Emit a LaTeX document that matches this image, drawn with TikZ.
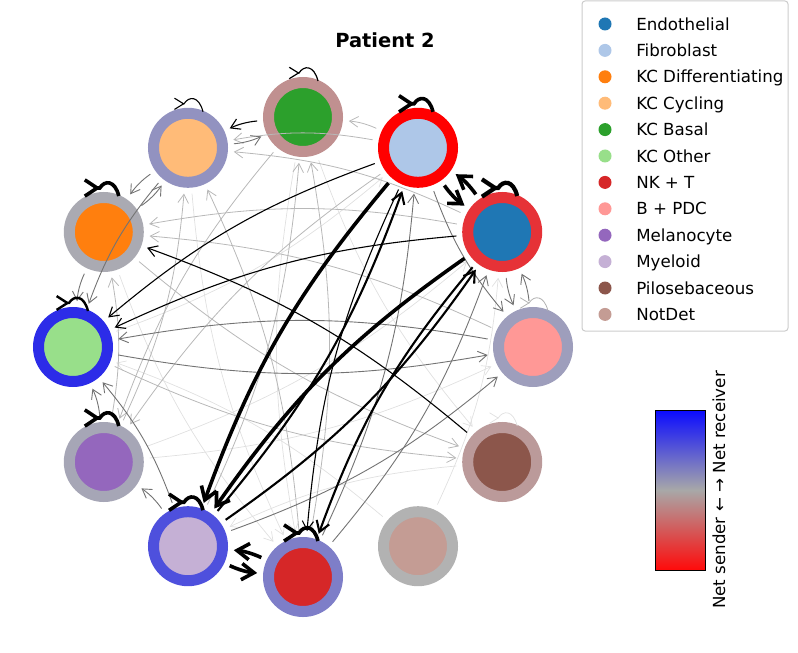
\documentclass[tikz,border=0pt]{standalone}
\usepackage{fontspec}
\setmainfont{DejaVu Sans}
\usetikzlibrary{arrows.meta,calc}

\newlength{\du}
\setlength{\du}{0.72pt}

% cell type colours (fill)
\definecolor{cEndo}{HTML}{1F77B4}
\definecolor{cFib}{HTML}{AEC7E8}
\definecolor{cKCDiff}{HTML}{FF7F0E}
\definecolor{cKCCyc}{HTML}{FFBB78}
\definecolor{cKCBasal}{HTML}{2CA02C}
\definecolor{cKCOth}{HTML}{98DF8A}
\definecolor{cNKT}{HTML}{D62728}
\definecolor{cBPDC}{HTML}{FF9896}
\definecolor{cMelano}{HTML}{9467BD}
\definecolor{cMye}{HTML}{C5B0D5}
\definecolor{cPilo}{HTML}{8C564B}
\definecolor{cNotDet}{HTML}{C49C94}
% ring colours (sender / receiver)
\definecolor{rFib}{HTML}{FF0000}
\definecolor{rEndo}{HTML}{E63237}
\definecolor{rBPDC}{HTML}{9E9EBC}
\definecolor{rPilo}{HTML}{BB9A9A}
\definecolor{rNotDet}{HTML}{B2B2B2}
\definecolor{rNKT}{HTML}{7E7EC8}
\definecolor{rMye}{HTML}{4E50DD}
\definecolor{rMelano}{HTML}{A6A6B6}
\definecolor{rKCOth}{HTML}{2C2CE8}
\definecolor{rKCDiff}{HTML}{AAAAB2}
\definecolor{rKCCyc}{HTML}{9292C0}
\definecolor{rKCBasal}{HTML}{C09090}
\definecolor{cbTop}{HTML}{0A0AFF}
\definecolor{cbMid}{HTML}{A8A8A8}
\definecolor{cbBot}{HTML}{FF0A0A}

\newcommand{\cellloop}[2]{%
\draw[barb,#2] ($(#1.center)+(15\du,36\du)$) .. controls ($(#1.center)+(11\du,52\du)$) and ($(#1.center)+(1\du,52\du)$) .. ($(#1.center)+(-4\du,44\du)$) -- ++(0.6\du,0);}

\tikzset{
cell/.style={circle, minimum size=69\du, line width=11\du, inner sep=0pt},
barb/.style={-{Straight Barb[length=5.5pt 1.3,width=6.5pt 2]}},
link/.style={barb, shorten >=6\du, shorten <=6\du},
heavy/.style={link, line width=3.6\du},
medium/.style={link, line width=2.1\du},
light/.style={link, line width=1.1\du},
grayline/.style={link, line width=0.9\du, black!55},
faintline/.style={link, line width=0.8\du, black!28},
ghostline/.style={link, line width=0.7\du, black!12},
dot/.style={circle, minimum size=13\du, inner sep=0pt},
legtext/.style={anchor=west, inner sep=0pt, text height=8.7pt, text depth=0pt, font=\fontsize{12}{14}\selectfont}
}

\begin{document}
\begin{tikzpicture}
\useasboundingbox (0\du,0\du) rectangle (798\du,652\du);

% title
\node[font=\fontsize{14}{17}\selectfont\bfseries] (title) at (385\du,612\du) {Patient 2};

% cells on the ring
\node[cell, fill=cKCBasal, draw=rKCBasal] (kcbasal) at (303\du,535\du) {};
\node[cell, fill=cFib, draw=rFib] (fib) at (418\du,504.2\du) {};
\node[cell, fill=cEndo, draw=rEndo] (endo) at (502.2\du,420\du) {};
\node[cell, fill=cBPDC, draw=rBPDC] (bpdc) at (533\du,305\du) {};
\node[cell, fill=cPilo, draw=rPilo] (pilo) at (502.2\du,190\du) {};
\node[cell, fill=cNotDet, draw=rNotDet] (notdet) at (418\du,105.8\du) {};
\node[cell, fill=cNKT, draw=rNKT] (nkt) at (303\du,75\du) {};
\node[cell, fill=cMye, draw=rMye] (mye) at (188\du,105.8\du) {};
\node[cell, fill=cMelano, draw=rMelano] (melano) at (103.8\du,190\du) {};
\node[cell, fill=cKCOth, draw=rKCOth] (kcoth) at (73\du,305\du) {};
\node[cell, fill=cKCDiff, draw=rKCDiff] (kcdiff) at (103.8\du,420\du) {};
\node[cell, fill=cKCCyc, draw=rKCCyc] (kccyc) at (188\du,504.2\du) {};

% weak links
\draw[ghostline] (notdet) to[bend right=10] (kcoth);
\draw[ghostline] (notdet) to[bend right=10] (endo);
\draw[ghostline] (kcbasal) to[bend right=10] (pilo);
\draw[ghostline] (kcoth) to[bend right=10] (fib);
\draw[ghostline] (melano) to[bend right=10] (endo);
\draw[ghostline] (kcdiff) to[bend right=10] (nkt);
\draw[ghostline] (kccyc) to[bend right=10] (nkt);
\draw[ghostline] (pilo) to[bend right=10] (mye);
\draw[ghostline] (melano) to[bend right=10] (bpdc);
\draw[ghostline] (kcbasal) to[bend right=10] (nkt);
\draw[faintline] (fib) to[bend right=10] (kcbasal);
\draw[faintline] (endo) to[bend right=10] (kccyc);
\draw[faintline] (fib) to[bend right=10] (kccyc);
\draw[faintline] (melano) to[bend right=10] (kccyc);
\draw[faintline] (nkt) to[bend right=10] (kccyc);
\draw[faintline] (mye) to[bend right=10] (kcbasal);
\draw[faintline] (nkt) to[bend right=10] (kcbasal);
\draw[faintline] (kcbasal) to[bend right=10] (melano);
\draw[faintline] (fib) to[bend right=10] (melano);
\draw[faintline] (kcoth) to[bend right=10] (pilo);
\draw[faintline] (kcdiff) to[bend right=10] (pilo);
\draw[faintline] (endo) to[bend right=10] (kcdiff);
\draw[faintline] (bpdc) to[bend right=10] (kcdiff);
\draw[faintline] (melano) to[bend right=10] (kcdiff);

% gray links
\draw[grayline] (bpdc) to[bend right=10] (kcoth);
\draw[grayline] (kcoth) to[bend right=10] (bpdc);
\draw[grayline] (mye) to[bend right=10] (bpdc);
\draw[grayline] (nkt) to[bend right=10] (endo);
\draw[grayline] (nkt) to[bend right=10] (fib);
\draw[grayline] (fib) to[bend right=10] (bpdc);
\draw[grayline] (kccyc) to[bend right=10] (kcbasal);
\draw[grayline] (kcdiff) to[bend right=10] (kccyc);
\draw[grayline] (kccyc) to[bend right=10] (kcdiff);
\draw[grayline] (mye) to[bend right=10] (melano);
\draw[grayline] (melano) to[bend right=10] (kcoth);
\draw[grayline] (kcdiff) to[bend right=10] (kcoth);
\draw[grayline] (kccyc) to[bend right=10] (kcoth);
\draw[grayline] (mye) to[bend right=10] (kcoth);
\draw[grayline] (endo) to[bend right=10] (bpdc);
\draw[grayline] (bpdc) to[bend right=10] (endo);

% black links
\draw[light] (fib) to[bend right=10] (nkt);
\draw[light] (fib) to[bend right=10] (kcoth);
\draw[light] (endo) to[bend right=10] (kcoth);
\draw[light] (pilo) to[bend right=10] (kcdiff);
\draw[light] (kcbasal) to[bend right=10] (kccyc);
\draw[medium] (mye) to[bend right=10] (fib);
\draw[medium] (mye) to[bend right=10] (endo);
\draw[medium] (endo) to[bend right=10] (nkt);
\draw[heavy] (fib) to[bend right=10] (mye);
\draw[heavy] (endo) to[bend right=10] (mye);
\draw[heavy] (fib) to[bend right=10] (endo);
\draw[heavy] (endo) to[bend right=10] (fib);
\draw[heavy] (mye) to[bend right=10] (nkt);
\draw[heavy] (nkt) to[bend right=10] (mye);

% self loops
\cellloop{fib}{line width=3.6\du}
\cellloop{endo}{line width=4.2\du}
\cellloop{kcdiff}{line width=3.6\du}
\cellloop{nkt}{line width=3.6\du}
\cellloop{mye}{line width=3.6\du}
\cellloop{melano}{line width=3.6\du}
\cellloop{kcoth}{line width=2.4\du}
\cellloop{kccyc}{line width=1.1\du}
\cellloop{kcbasal}{line width=1.2\du}
\cellloop{bpdc}{line width=0.8\du, black!30}
\cellloop{pilo}{line width=0.7\du, black!12}

% legend
\draw[black!20, line width=1\du, fill=white, rounded corners=3\du] (582\du,321\du) rectangle (788\du,651\du);
\node[dot, fill=cEndo] (dEndo) at (605\du,628\du) {};
\node[legtext] (lEndo) at (636\du,628\du) {Endothelial};
\node[dot, fill=cFib] (dFib) at (605\du,601.6\du) {};
\node[legtext] (lFib) at (636\du,601.6\du) {Fibroblast};
\node[dot, fill=cKCDiff] (dKCDiff) at (605\du,575.2\du) {};
\node[legtext] (lKCDiff) at (636\du,575.2\du) {KC Differentiating};
\node[dot, fill=cKCCyc] (dKCCyc) at (605\du,548.8\du) {};
\node[legtext] (lKCCyc) at (636\du,548.8\du) {KC Cycling};
\node[dot, fill=cKCBasal] (dKCBasal) at (605\du,522.4\du) {};
\node[legtext] (lKCBasal) at (636\du,522.4\du) {KC Basal};
\node[dot, fill=cKCOth] (dKCOth) at (605\du,496\du) {};
\node[legtext] (lKCOth) at (636\du,496\du) {KC Other};
\node[dot, fill=cNKT] (dNKT) at (605\du,469.6\du) {};
\node[legtext] (lNKT) at (636\du,469.6\du) {NK + T};
\node[dot, fill=cBPDC] (dBPDC) at (605\du,443.2\du) {};
\node[legtext] (lBPDC) at (636\du,443.2\du) {B + PDC};
\node[dot, fill=cMelano] (dMelano) at (605\du,416.8\du) {};
\node[legtext] (lMelano) at (636\du,416.8\du) {Melanocyte};
\node[dot, fill=cMye] (dMye) at (605\du,390.4\du) {};
\node[legtext] (lMye) at (636\du,390.4\du) {Myeloid};
\node[dot, fill=cPilo] (dPilo) at (605\du,364\du) {};
\node[legtext] (lPilo) at (636\du,364\du) {Pilosebaceous};
\node[dot, fill=cNotDet] (dNotDet) at (605\du,337.6\du) {};
\node[legtext] (lNotDet) at (636\du,337.6\du) {NotDet};

% colour bar
\node[draw, line width=1\du, minimum width=50\du, minimum height=160\du, inner sep=0pt, top color=cbTop, bottom color=cbBot, middle color=cbMid] (colorbar) at (680\du,162\du) {};
\node[rotate=90, font=\fontsize{12}{14}\selectfont] (cblabel) at (719\du,162\du) {Net sender ← → Net receiver};
\end{tikzpicture}
\end{document}
